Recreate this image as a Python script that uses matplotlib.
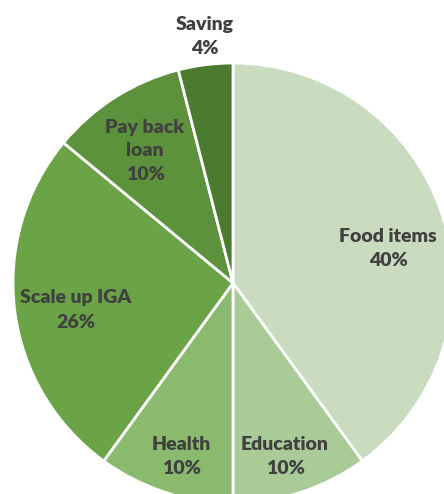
import matplotlib.pyplot as plt

categories = ['Food items', 'Education', 'Health', 'Scale up IGA', 'Pay back\nloan', 'Saving']
shares = [40, 10, 10, 26, 10, 4]
colors = ['#c9dcc0', '#a9cb97', '#8aba6e', '#6aa446', '#5b923b', '#4a7b2f']

# label positions in pixels (x, y from top)
label_pos = [(388, 248), (285, 456), (181, 456), (76, 310), (145, 151), (205, 37)]

W, H = 444, 494
fig = plt.figure(figsize=(W / 100, H / 100), dpi=100)
ax = fig.add_axes([0, 0, 1, 1])

cx, cy, r = 233, H - 283, 220
ax.pie(shares, colors=colors, startangle=90, counterclock=False,
       center=(cx, cy), radius=r, frame=True,
       wedgeprops=dict(edgecolor='white', linewidth=2))
ax.set_xlim(0, W)
ax.set_ylim(0, H)
ax.axis('off')

for name, val, (x, y) in zip(categories, shares, label_pos):
    ax.text(x, H - y, name + '\n' + str(val) + '%', ha='center', va='center',
            fontsize=14, fontweight='heavy', color='#404040', family='Lato',
            linespacing=1.5)

fig.savefig('out.png', dpi=100)
